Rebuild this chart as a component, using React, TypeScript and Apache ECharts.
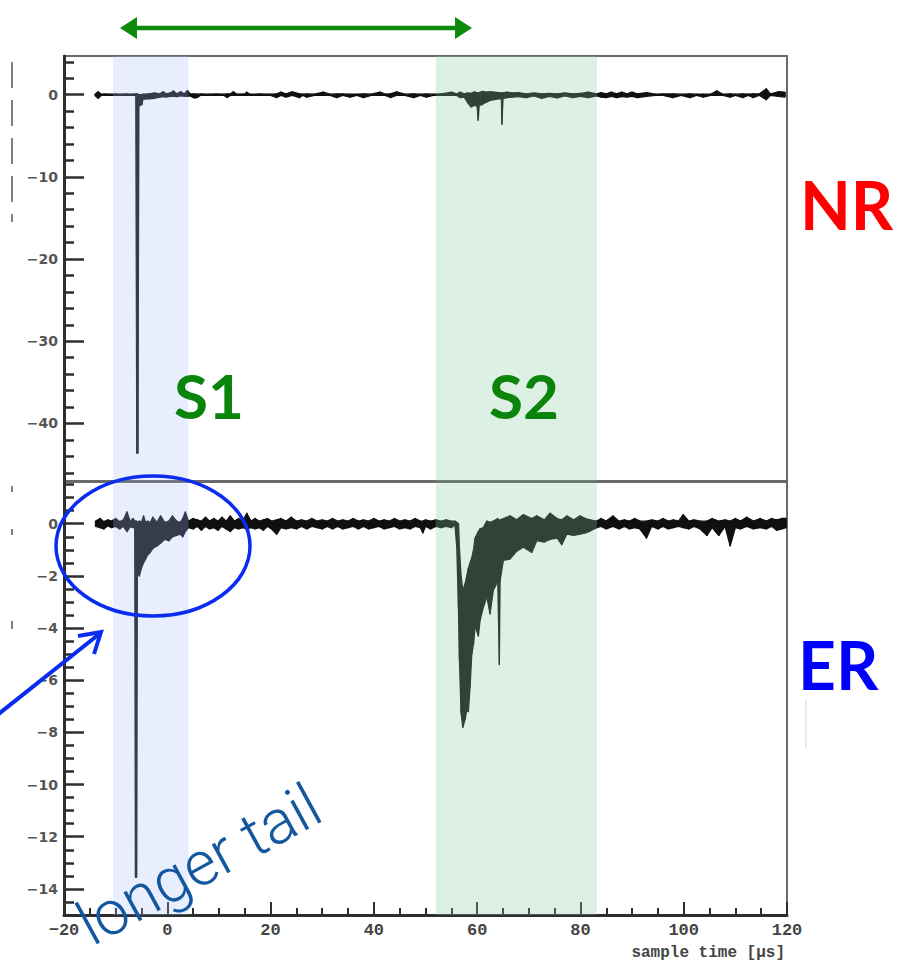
import React, { useEffect, useRef } from "react";
import * as echarts from "echarts";

// ---------- data ----------
// NR (top panel) waveform: [time µs, upper envelope, lower envelope]
const nrSamples: [number, number, number][] = [
  [-14.0, 0.05, -0.1], [-13.4, 0.35, -0.45], [-12.8, 0.05, -0.1], [-12.0, 0.08, -0.08],
  [-11.0, 0.05, -0.1], [-10.0, 0.08, -0.08], [-9.0, 0.05, -0.1], [-8.0, 0.08, -0.08],
  [-7.0, 0.05, -0.1], [-6.1, 0.08, -0.1], [-5.9, 0.08, -43.6], [-5.7, 0.05, -43.6],
  [-5.5, 0.0, -1.4], [-4.9, 0.0, -1.2], [-4.7, 0.05, -0.55], [-3.5, 0.1, -0.5],
  [-2.5, 0.2, -0.45], [-1.4, 0.1, -0.3], [-0.8, 0.35, -0.25], [-0.2, 0.1, -0.3],
  [0.6, 0.2, -0.2], [1.2, 0.45, -0.2], [1.8, 0.1, -0.25], [2.6, 0.35, -0.15],
  [3.3, 0.1, -0.2], [3.9, 0.5, -0.2], [4.4, 0.1, -0.15], [5.2, 0.1, -0.4],
  [5.8, 0.05, -0.35], [6.5, 0.08, -0.08], [8.0, 0.05, -0.1], [9.5, 0.08, -0.08],
  [11.0, 0.05, -0.1], [11.6, 0.08, -0.35], [12.2, 0.1, -0.1], [12.8, 0.35, -0.1],
  [13.5, 0.05, -0.08], [15.0, 0.08, -0.1], [15.4, 0.3, -0.1], [16.0, 0.05, -0.08],
  [18.0, 0.08, -0.1], [20.0, 0.05, -0.08], [21.2, 0.1, -0.35], [22.0, 0.3, -0.1],
  [23.0, 0.1, -0.3], [24.2, 0.35, -0.1], [25.6, 0.1, -0.35], [26.3, 0.05, -0.08],
  [27.0, 0.08, -0.3], [28.5, 0.05, -0.1], [30.2, 0.3, -0.1], [31.5, 0.05, -0.08],
  [32.8, 0.1, -0.35], [34.0, 0.08, -0.1], [35.4, 0.05, -0.3], [36.7, 0.05, -0.1],
  [38.0, 0.1, -0.35], [39.5, 0.05, -0.08], [41.2, 0.3, -0.08], [42.2, 0.05, -0.1],
  [43.2, 0.1, -0.35], [44.4, 0.35, -0.1], [46.0, 0.05, -0.08], [47.7, 0.1, -0.35],
  [49.0, 0.05, -0.1], [50.2, 0.08, -0.3], [51.5, 0.05, -0.08], [53.0, 0.08, -0.1],
  [55.1, 0.3, -0.1], [56.0, 0.08, -0.1], [56.7, 0.3, -0.35], [57.5, 0.1, -0.3],
  [58.2, 0.2, -1.0], [58.8, 0.15, -1.5], [59.5, 0.35, -1.3], [60.0, 0.2, -1.4],
  [60.2, 0.2, -3.1], [60.4, 0.25, -1.3], [61.0, 0.4, -1.2], [61.8, 0.3, -0.9],
  [62.5, 0.35, -0.7], [63.3, 0.3, -0.6], [64.2, 0.25, -0.5], [64.7, 0.2, -0.5],
  [64.8, 0.2, -3.6], [65.0, 0.2, -0.5], [65.8, 0.3, -0.35], [66.8, 0.2, -0.3],
  [68.0, 0.25, -0.25], [69.5, 0.1, -0.35], [71.0, 0.2, -0.15], [72.5, 0.1, -0.45],
  [74.0, 0.15, -0.2], [75.5, 0.1, -0.4], [77.0, 0.2, -0.15], [78.5, 0.1, -0.35],
  [80.0, 0.15, -0.2], [81.5, 0.3, -0.35], [83.2, 0.1, -0.15], [84.0, 0.25, -0.3],
  [85.0, 0.1, -0.35], [86.0, 0.3, -0.2], [87.0, 0.1, -0.35], [88.0, 0.3, -0.25],
  [89.0, 0.1, -0.3], [90.0, 0.3, -0.2], [91.0, 0.1, -0.35], [92.8, 0.25, -0.2],
  [94.5, 0.05, -0.08], [96.0, 0.08, -0.1], [97.9, 0.1, -0.35], [99.5, 0.05, -0.1],
  [101.2, 0.1, -0.35], [102.5, 0.05, -0.08], [103.8, 0.05, -0.3], [105.2, 0.05, -0.1],
  [106.4, 0.45, -0.1], [107.6, 0.05, -0.08], [109.0, 0.1, -0.3], [110.0, 0.05, -0.08],
  [111.5, 0.1, -0.35], [112.5, 0.05, -0.1], [113.4, 0.1, -0.35], [114.6, 0.08, -0.08],
  [116.0, 0.7, -0.6], [116.8, 0.1, -0.1], [118.3, 0.35, -0.2], [119.6, 0.3, -0.3],
];

// ER (bottom panel) waveform: [time µs, upper envelope, lower envelope]
const erSamples: [number, number, number][] = [
  [-13.9, 0.1, -0.1], [-13.0, 0.2, -0.15], [-12.3, 0.08, -0.2], [-11.5, 0.15, -0.08],
  [-10.8, 0.1, -0.15], [-10.0, 0.2, -0.1], [-9.2, 0.08, -0.2], [-8.5, 0.15, -0.1],
  [-7.8, 0.45, -0.3], [-7.2, 0.1, -0.12], [-6.6, 0.2, -0.15], [-6.3, 0.1, -0.1],
  [-6.15, 0.1, -13.55], [-5.95, 0.1, -13.55], [-5.8, 0.05, -1.9], [-5.4, 0.1, -2.0],
  [-5.0, 0.05, -1.7], [-4.6, 0.3, -1.5], [-4.2, 0.05, -1.35], [-3.8, 0.1, -1.2],
  [-3.3, 0.05, -1.1], [-2.8, 0.25, -0.95], [-2.0, 0.05, -0.85], [-1.3, 0.3, -0.75],
  [-0.5, 0.05, -0.6], [0.3, 0.1, -0.65], [1.0, 0.3, -0.5], [1.8, 0.1, -0.45],
  [2.5, 0.05, -0.4], [3.0, 0.2, -0.5], [3.5, 0.45, -0.3], [4.1, 0.1, -0.15],
  [5.0, 0.2, -0.2], [5.8, 0.15, -0.1], [6.6, 0.1, -0.25], [7.4, 0.25, -0.1],
  [8.2, 0.1, -0.2], [9.0, 0.2, -0.15], [9.8, 0.1, -0.25], [10.6, 0.25, -0.1],
  [11.4, 0.1, -0.2], [12.2, 0.3, -0.3], [13.0, 0.1, -0.15], [13.8, 0.2, -0.2],
  [14.6, 0.1, -0.15], [15.4, 0.4, -0.2], [16.2, 0.1, -0.15], [17.0, 0.2, -0.2],
  [17.8, 0.1, -0.15], [18.6, 0.15, -0.25], [19.4, 0.2, -0.1], [20.2, 0.1, -0.2],
  [21.2, 0.15, -0.4], [22.0, 0.2, -0.15], [23.0, 0.1, -0.2], [24.0, 0.25, -0.15],
  [25.0, 0.1, -0.2], [26.0, 0.15, -0.1], [27.0, 0.1, -0.2], [28.0, 0.2, -0.1],
  [29.0, 0.1, -0.15], [30.0, 0.15, -0.2], [31.0, 0.1, -0.1], [32.0, 0.2, -0.2],
  [33.0, 0.1, -0.1], [34.0, 0.15, -0.2], [35.0, 0.1, -0.15], [36.0, 0.2, -0.1],
  [37.0, 0.1, -0.2], [38.0, 0.15, -0.1], [39.0, 0.1, -0.2], [40.0, 0.2, -0.15],
  [41.0, 0.1, -0.1], [42.0, 0.15, -0.2], [43.0, 0.1, -0.15], [44.0, 0.2, -0.1],
  [45.0, 0.1, -0.2], [46.0, 0.15, -0.15], [47.0, 0.1, -0.2], [48.0, 0.2, -0.1],
  [49.0, 0.1, -0.15], [49.5, 0.1, -0.35], [50.0, 0.15, -0.1], [51.0, 0.1, -0.2],
  [52.0, 0.15, -0.1], [53.0, 0.1, -0.15], [54.0, 0.15, -0.1], [55.0, 0.1, -0.15],
  [55.7, 0.1, -0.05], [56.06, 0.05, -0.9], [56.38, 0.0, -3.2], [56.57, -1.0, -5.2],
  [56.89, -2.0, -7.25], [57.22, -2.55, -7.8], [57.67, -2.3, -7.5], [57.99, -2.0, -7.15],
  [58.3, -1.7, -7.2], [58.63, -1.5, -6.25], [58.96, -1.3, -5.0], [59.3, -1.0, -4.6],
  [59.6, -0.55, -3.95], [60.24, -0.3, -4.3], [60.57, -0.2, -3.7], [61.21, -0.15, -3.2],
  [61.87, 0.1, -2.8], [62.5, 0.05, -3.45], [63.14, 0.1, -2.55], [64.0, 0.2, -2.2],
  [64.3, 0.1, -5.4], [64.44, 0.15, -2.2], [65.08, 0.2, -1.4], [66.38, 0.3, -1.35],
  [67.67, 0.15, -1.05], [68.95, 0.35, -0.9], [70.58, 0.2, -1.1], [71.54, 0.3, -0.65],
  [73.0, 0.15, -0.7], [74.12, 0.4, -0.6], [75.5, 0.2, -0.55], [76.38, 0.15, -0.8],
  [77.35, 0.3, -0.4], [78.7, 0.15, -0.45], [79.92, 0.3, -0.4], [81.0, 0.2, -0.35],
  [81.86, 0.15, -0.28], [83.15, 0.1, -0.15], [84.0, 0.2, -0.1], [85.0, 0.1, -0.2],
  [86.3, 0.3, -0.1], [87.5, 0.1, -0.2], [88.5, 0.15, -0.1], [89.5, 0.1, -0.2],
  [90.5, 0.2, -0.15], [91.5, 0.1, -0.2], [92.8, 0.1, -0.55], [93.8, 0.15, -0.1],
  [95.0, 0.1, -0.2], [96.0, 0.2, -0.1], [97.0, 0.1, -0.2], [98.0, 0.15, -0.15],
  [99.0, 0.1, -0.1], [99.9, 0.35, -0.15], [101.0, 0.1, -0.2], [102.0, 0.15, -0.1],
  [103.2, 0.1, -0.2], [104.5, 0.1, -0.45], [105.5, 0.2, -0.15], [106.8, 0.1, -0.45],
  [108.0, 0.15, -0.1], [109.0, 0.1, -0.85], [110.0, 0.2, -0.15], [111.0, 0.1, -0.2],
  [112.2, 0.25, -0.1], [113.5, 0.1, -0.2], [114.8, 0.2, -0.15], [116.0, 0.1, -0.2],
  [117.0, 0.2, -0.1], [118.0, 0.15, -0.25], [119.0, 0.2, -0.2], [119.8, 0.2, -0.15],
];

// shaded windows (µs)
const bandStart = [-10.5, 52.0];
const bandEnd = [4.1, 83.2];
const bandColors = ["rgba(170,190,255,0.26)", "rgba(130,205,155,0.28)"];

// axes
const xMin = -20;
const xMax = 120;
const xInterval = 20;
const nrRange = [-47, 4.7];
const erRange = [-15, 1.6];
const nrMajorTicks = [0, -10, -20, -30, -40];
const nrMinorTicks = [4, 2, -2, -4, -6, -8, -12, -14, -16, -18, -22, -24, -26, -28, -32, -34, -36, -38, -42, -44, -46];
const erMajorTicks = [0, -2, -4, -6, -8, -10, -12, -14];
const erMinorTicks = [1.5, 1, 0.5, -0.5, -1, -1.5, -2.5, -3, -3.5, -4.5, -5, -5.5, -6.5, -7, -7.5, -8.5, -9, -9.5, -10.5, -11, -11.5, -12.5, -13, -13.5, -14.5];
const xAxisTitle = "sample time [μs]";

// annotations
const labelNR = "NR";
const labelER = "ER";
const labelS1 = "S1";
const labelS2 = "S2";
const labelTail = "longer tail";

const AXIS = "#2e2e2e";
const BORDER = "#6a6a6a";
const WAVE = "#101010";

const minusFmt = (v: number) => String(v).replace("-", "\u2212");

function yAxesFor(gridIndex: number, range: number[], major: number[], minor: number[]) {
  return [
    {
      type: "value", gridIndex, min: range[0], max: range[1], position: "left",
      axisLine: { show: true, onZero: false, lineStyle: { color: AXIS, width: 3 } },
      axisTick: { show: true, inside: true, length: 20, customValues: major, lineStyle: { color: AXIS, width: 2.5 } },
      axisLabel: {
        show: true, customValues: major, margin: 6, formatter: minusFmt,
        color: "#555", fontFamily: "DejaVu Sans", fontWeight: "bold", fontSize: 14,
      },
      splitLine: { show: false },
    },
    {
      type: "value", gridIndex, min: range[0], max: range[1], position: "left",
      axisLine: { show: false, onZero: false },
      axisTick: { show: true, inside: true, length: 10, customValues: minor, lineStyle: { color: AXIS, width: 2.5 } },
      axisLabel: { show: false },
      splitLine: { show: false },
    },
  ];
}

// waveform drawn as a min/max envelope: each sample joins the next one with a filled quad
function waveSeries(samples: [number, number, number][], xi: number, yi: number) {
  return {
    type: "custom", xAxisIndex: xi, yAxisIndex: yi, z: 2, silent: true, clip: true,
    data: samples.map((s) => [s[0], s[1], s[2]]),
    encode: { x: 0, y: [1, 2] },
    renderItem: (params: any, api: any) => {
      const i = params.dataIndex;
      const t0 = api.value(0);
      const a = api.coord([t0, api.value(1)]);
      const d = api.coord([t0, api.value(2)]);
      if (i >= samples.length - 1) {
        return {
          type: "line", shape: { x1: a[0], y1: a[1], x2: d[0], y2: d[1] },
          style: { stroke: WAVE, lineWidth: 1.3 },
        };
      }
      const n = samples[i + 1];
      const b = api.coord([n[0], n[1]]);
      const c = api.coord([n[0], n[2]]);
      return {
        type: "polygon",
        shape: { points: [a, b, c, d] },
        style: { fill: WAVE, stroke: WAVE, lineWidth: 1.3, lineJoin: "round" },
      };
    },
  };
}

function bandSeries(xi: number, yi: number) {
  return {
    type: "custom", xAxisIndex: xi, yAxisIndex: yi, z: 5, silent: true,
    data: bandStart.map((s, i) => [s, bandEnd[i], i]),
    encode: { x: [0, 1] },
    renderItem: (params: any, api: any) => {
      const cs = params.coordSys;
      const x0 = api.coord([api.value(0), 0])[0];
      const x1 = api.coord([api.value(1), 0])[0];
      return {
        type: "rect",
        shape: { x: x0, y: cs.y, width: x1 - x0, height: cs.height },
        style: { fill: bandColors[api.value(2)] },
      };
    },
  };
}

const option: any = {
  animation: false,
  backgroundColor: "#ffffff",
  grid: [
    { left: 64, right: 112, top: 56, height: 425, show: true, borderColor: BORDER, borderWidth: 2, backgroundColor: "transparent" },
    { left: 64, right: 112, top: 482, height: 433, show: true, borderColor: BORDER, borderWidth: 2, backgroundColor: "transparent" },
  ],
  xAxis: [
    {
      type: "value", gridIndex: 0, min: xMin, max: xMax, interval: xInterval,
      axisLine: { show: false, onZero: false }, axisTick: { show: false }, axisLabel: { show: false },
      splitLine: { show: false },
    },
    {
      type: "value", gridIndex: 1, min: xMin, max: xMax, interval: xInterval,
      axisLine: { show: true, onZero: false, lineStyle: { color: AXIS, width: 3 } },
      axisTick: { show: true, inside: true, length: 13, lineStyle: { color: AXIS, width: 2 } },
      minorTick: { show: true, splitNumber: 4, length: 7, lineStyle: { color: AXIS, width: 2 } },
      axisLabel: {
        show: true, margin: 7, formatter: minusFmt,
        color: "#444", fontFamily: "Liberation Mono", fontWeight: "bold", fontSize: 17,
      },
      splitLine: { show: false },
      name: xAxisTitle, nameLocation: "end", nameGap: -2,
      nameTextStyle: {
        align: "right", verticalAlign: "top", padding: [30, 0, 0, 0],
        color: "#444", fontFamily: "Liberation Mono", fontWeight: "bold", fontSize: 16,
      },
    },
  ],
  yAxis: [
    ...yAxesFor(0, nrRange, nrMajorTicks, nrMinorTicks),
    ...yAxesFor(1, erRange, erMajorTicks, erMinorTicks),
  ],
  series: [
    waveSeries(nrSamples, 0, 0),
    waveSeries(erSamples, 1, 2),
    bandSeries(0, 0),
    bandSeries(1, 2),
  ],
  graphic: [
    // residual marks at far left
    { type: "line", z: 100, shape: { x1: 12, y1: 62, x2: 12, y2: 222 }, style: { stroke: "#555", lineWidth: 1.5, lineDash: [26, 12] } },
    { type: "line", z: 100, shape: { x1: 12, y1: 486, x2: 12, y2: 492 }, style: { stroke: "#555", lineWidth: 1.5 } },
    { type: "line", z: 100, shape: { x1: 12, y1: 529, x2: 12, y2: 535 }, style: { stroke: "#555", lineWidth: 1.5 } },
    { type: "line", z: 100, shape: { x1: 12, y1: 621, x2: 12, y2: 629 }, style: { stroke: "#555", lineWidth: 1.5 } },
    { type: "line", z: 100, shape: { x1: 806, y1: 700, x2: 806, y2: 748 }, style: { stroke: "#e2e2e2", lineWidth: 1.5 } },
    // green double arrow
    { type: "line", z: 100, shape: { x1: 134, y1: 28, x2: 458, y2: 28 }, style: { stroke: "#0b8a0b", lineWidth: 4.5 } },
    { type: "polygon", z: 100, shape: { points: [[120, 28], [137, 17], [137, 39]] }, style: { fill: "#0b8a0b" } },
    { type: "polygon", z: 100, shape: { points: [[472, 28], [455, 17], [455, 39]] }, style: { fill: "#0b8a0b" } },
    // blue ellipse around S1 tail
    { type: "ellipse", z: 100, shape: { cx: 153, cy: 546, rx: 97, ry: 70 }, style: { fill: "none", stroke: "#0a2cf0", lineWidth: 3.5 } },
    // blue arrow
    { type: "line", z: 100, shape: { x1: -4, y1: 716, x2: 98, y2: 635 }, style: { stroke: "#0a2cf0", lineWidth: 4 } },
    { type: "polyline", z: 100, shape: { points: [[78, 636], [101, 632], [94, 654]] }, style: { fill: "none", stroke: "#0a2cf0", lineWidth: 4 } },
    // labels
    { type: "text", z: 100, x: 800, y: 204, style: { text: labelNR, fill: "#ff0000", font: "bold 66px Lato", textAlign: "left", textVerticalAlign: "middle" } },
    { type: "text", z: 100, x: 798, y: 664, style: { text: labelER, fill: "#0000ff", font: "bold 66px Lato", textAlign: "left", textVerticalAlign: "middle" } },
    { type: "text", z: 100, x: 174, y: 395, style: { text: labelS1, fill: "#0b840b", font: "bold 62px Lato", textAlign: "left", textVerticalAlign: "middle" } },
    { type: "text", z: 100, x: 489, y: 395, style: { text: labelS2, fill: "#0b840b", font: "bold 62px Lato", textAlign: "left", textVerticalAlign: "middle" } },
    {
      type: "text", z: 100, x: 82, y: 928, rotation: 0.5,
      style: { text: labelTail, fill: "#13579f", font: "300 62px Roboto", textAlign: "left", textVerticalAlign: "middle" },
    },
  ],
};

export default function App() {
  const ref = useRef<HTMLDivElement>(null);
  useEffect(() => {
    if (!ref.current) return;
    const chart = echarts.init(ref.current, null, { renderer: "svg" });
    chart.setOption(option);
    return () => chart.dispose();
  }, []);
  return (
    <div
      ref={ref}
      style={{ position: "absolute", left: 0, top: 0, width: 899, height: 964, background: "#fff" }}
    />
  );
}
